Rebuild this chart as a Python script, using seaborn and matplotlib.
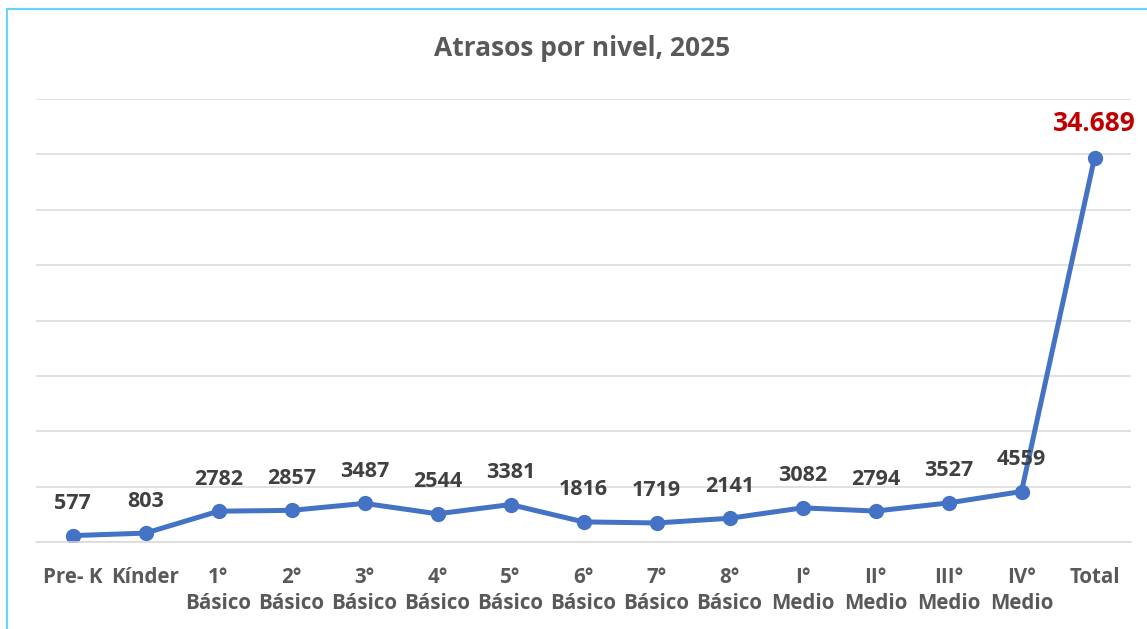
import matplotlib
matplotlib.use("Agg")
import matplotlib.pyplot as plt
import seaborn as sns
import pandas as pd
from matplotlib.patches import Rectangle

# --- datos ---
niveles = ["Pre- K", "Kínder", "1°\nBásico", "2°\nBásico", "3°\nBásico", "4°\nBásico",
           "5°\nBásico", "6°\nBásico", "7°\nBásico", "8°\nBásico", "I°\nMedio",
           "II°\nMedio", "III°\nMedio", "IV°\nMedio", "Total"]
atrasos = [577, 803, 2782, 2857, 3487, 2544, 3381, 1816, 1719, 2141,
           3082, 2794, 3527, 4559, 34689]
etiquetas = ["577", "803", "2782", "2857", "3487", "2544", "3381", "1816", "1719",
             "2141", "3082", "2794", "3527", "4559", "34.689"]

df = pd.DataFrame({"pos": range(len(niveles)), "atrasos": atrasos})

sns.set_theme(style="white")
plt.rcParams["font.family"] = ["Open Sans", "DejaVu Sans"]

fig = plt.figure(figsize=(11.47, 6.29), dpi=100)
ax = fig.add_axes([36 / 1147, 1 - 542 / 629, (1131 - 36) / 1147, (542 - 99) / 629])

# borde del gráfico (estilo Excel, recortado a la derecha/abajo)
fig.patches.append(Rectangle((6.5 / 1147, -0.1), 1.2, 1 - 8.5 / 629 + 0.1,
                             transform=fig.transFigure, fill=False,
                             edgecolor="#66D6F2", linewidth=1.6))

sns.lineplot(data=df, x="pos", y="atrasos", ax=ax, color="#4472C4",
             linewidth=3.6, marker="o", markersize=11, markeredgewidth=0)

ax.set_xlim(-0.5, len(niveles) - 0.5)
ax.set_ylim(0, 40000)
ax.set_yticks(range(0, 40001, 5000))
ax.yaxis.grid(True, color="#D9D9D9", linewidth=1.1)
ax.set_axisbelow(True)
for s in ["top", "right", "left"]:
    ax.spines[s].set_visible(False)
ax.spines["bottom"].set_color("#D9D9D9")
ax.spines["bottom"].set_linewidth(1.1)
ax.tick_params(axis="y", left=False, labelleft=False)
ax.set_xticks(range(len(niveles)))
ax.set_xticklabels(niveles, fontsize=14.8, fontweight="bold", color="#595959",
                   linespacing=1.3)
ax.tick_params(axis="x", bottom=False, pad=12)
ax.set_xlabel("")
ax.set_ylabel("")

# etiquetas de datos
for i, (v, t) in enumerate(zip(atrasos, etiquetas)):
    if t == etiquetas[-1]:
        ax.annotate(t, (i, v), xytext=(0, 34), textcoords="offset pixels",
                    ha="center", va="center", fontsize=19, fontweight="bold",
                    color="#C00000")
    else:
        ax.annotate(t, (i, v), xytext=(0, 32), textcoords="offset pixels",
                    ha="center", va="center", fontsize=15.5, fontweight="bold",
                    color="#404040")

fig.text(582 / 1147, 1 - 48 / 629, "Atrasos por nivel, 2025", ha="center",
         va="center", fontsize=19, fontweight="bold", color="#595959")

fig.savefig("out.png", dpi=100, facecolor="white")
